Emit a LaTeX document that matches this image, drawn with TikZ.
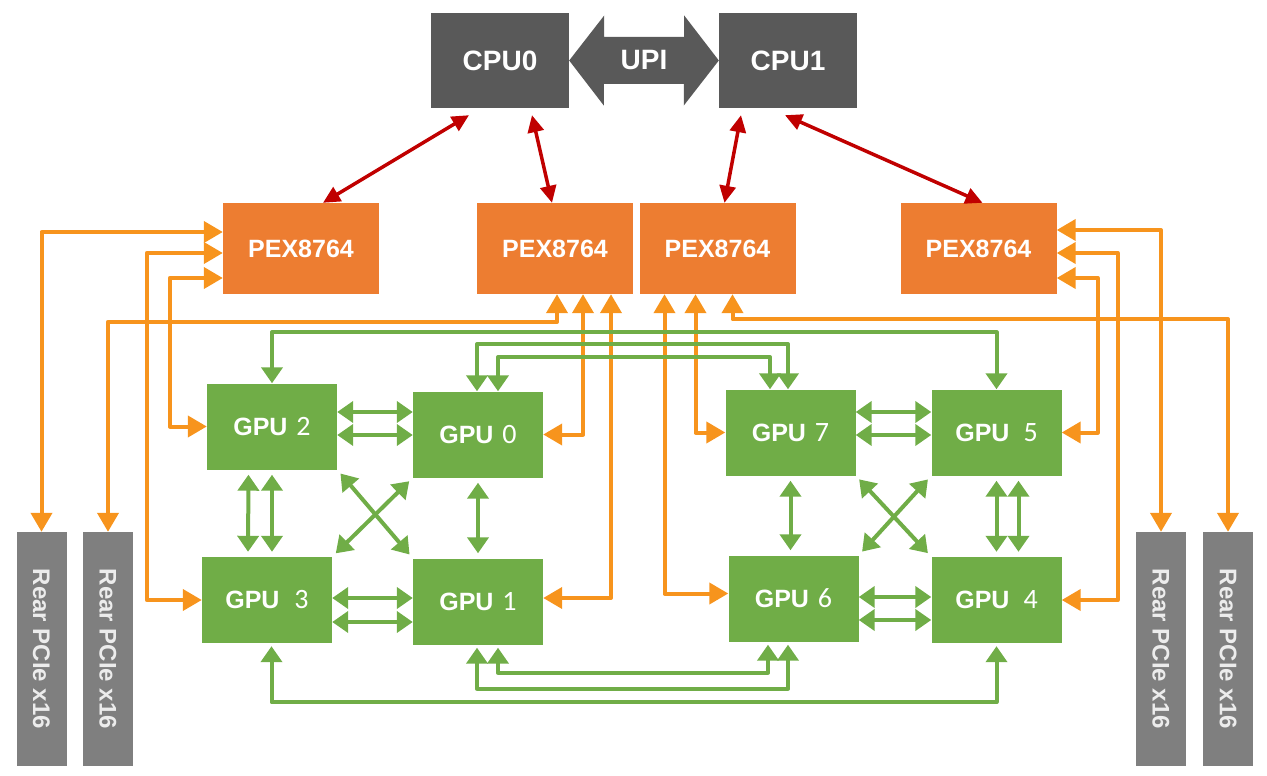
\documentclass[tikz,border=0pt]{standalone}
\usepackage{fontspec}
\setmainfont{Liberation Sans}
\newfontfamily\digitfont{Carlito}
\usetikzlibrary{arrows.meta,calc}
\definecolor{cpugray}{HTML}{595959}
\definecolor{reargray}{HTML}{7F7F7F}
\definecolor{pexorange}{HTML}{ED7D31}
\definecolor{linkorange}{HTML}{F7941D}
\definecolor{nvgreen}{HTML}{70AD47}
\definecolor{upired}{HTML}{C00000}
\newcommand{\gpunum}[1]{{\digitfont\mdseries\fontsize{28}{30}\selectfont#1}}
\begin{document}
\begin{tikzpicture}[x=1pt,y=-1pt,line cap=round,line join=round,
  boxfont/.style={font=\bfseries\fontsize{25}{30}\selectfont},
  cpufont/.style={font=\bfseries\fontsize{28}{32}\selectfont},
  cpubox/.style={cpufont,fill=cpugray,text=white,minimum width=138pt,minimum height=95pt,inner sep=0pt},
  pexbox/.style={boxfont,fill=pexorange,text=white,minimum width=156pt,minimum height=91pt,inner sep=0pt},
  gpubox/.style={boxfont,fill=nvgreen,text=white,minimum width=130pt,minimum height=86pt,inner sep=0pt},
  rearbox/.style={font=\bfseries\fontsize{24}{28}\selectfont,fill=reargray,text=white!85!reargray,minimum width=50pt,minimum height=234pt,inner sep=0pt},
  cpulink/.style={upired,line width=3.5pt,{Triangle[length=17pt,width=16pt]}-{Triangle[length=17pt,width=16pt]}},
  pcielink/.style={linkorange,line width=4pt,{Triangle[length=19pt,width=21pt]}-{Triangle[length=19pt,width=21pt]}},
  nvlink/.style={nvgreen,line width=4pt,{Triangle[length=16pt,width=21pt]}-{Triangle[length=16pt,width=21pt]}},
  nvgap/.style={shorten <=5pt,shorten >=5pt}]
  \useasboundingbox (0,0) rectangle (1267,776);
  \node[cpubox] (cpu0) at (500,60.5) {CPU0};
  \node[cpubox] (cpu1) at (788,60.5) {CPU1};
  \fill[cpugray] (cpu0.east) -- ++(35,-45) -- ++(0,21.5) -- ++(80,0) -- ++(0,-21.5) -- (cpu1.west)
    -- ++(-35,45) -- ++(0,-21.5) -- ++(-80,0) -- ++(0,21.5) -- cycle;
  \node[cpufont,text=white] (upi) at ($(cpu0.east)!0.5!(cpu1.west)$) {UPI};
  \node[pexbox] (pexA) at (301,248.5) {PEX8764};
  \node[pexbox] (pexB) at (555,248.5) {PEX8764};
  \node[pexbox] (pexC) at (717.5,248.5) {PEX8764};
  \node[pexbox] (pexD) at (978.5,248.5) {PEX8764};
  \node[gpubox] (gpu2) at (272,426.5) {GPU\hspace{9pt}\gpunum{2}};
  \node[gpubox] (gpu0) at (478,434.5) {GPU\hspace{9pt}\gpunum{0}};
  \node[gpubox] (gpu3) at (267,600) {GPU\hspace{15pt}\gpunum{3}};
  \node[gpubox] (gpu1) at (478,601.5) {GPU\hspace{9pt}\gpunum{1}};
  \node[gpubox] (gpu7) at (790.5,432.5) {GPU\hspace{9pt}\gpunum{7}};
  \node[gpubox] (gpu5) at (996.5,432.5) {GPU\hspace{14pt}\gpunum{5}};
  \node[gpubox] (gpu6) at (793.5,598.5) {GPU\hspace{9pt}\gpunum{6}};
  \node[gpubox] (gpu4) at (996.5,600) {GPU\hspace{14pt}\gpunum{4}};
  \node[rearbox] (rearL1) at (41.5,649) {\rotatebox{-90}{Rear PCIe x16}};
  \node[rearbox] (rearL2) at (108,649) {\rotatebox{-90}{Rear PCIe x16}};
  \node[rearbox] (rearR1) at (1161,649) {\rotatebox{-90}{Rear PCIe x16}};
  \node[rearbox] (rearR2) at (1228,649) {\rotatebox{-90}{Rear PCIe x16}};
  \draw[cpulink] ([xshift=-31pt,yshift=-7pt]cpu0.south) -- ([xshift=22pt]pexA.north);
  \draw[cpulink] ([xshift=32pt,yshift=-7pt]cpu0.south) -- ([xshift=-3pt]pexB.north);
  \draw[cpulink] ([xshift=-47pt,yshift=-7pt]cpu1.south) -- ([xshift=7pt]pexC.north);
  \draw[cpulink] ([xshift=-3pt,yshift=-7pt]cpu1.south) -- ([xshift=4pt]pexD.north);
  \draw[pcielink] (rearL1.north) |- ([yshift=16.5pt]pexA.west);
  \draw[pcielink] ([yshift=-4.5pt]pexA.west) -- ++(-76,0) |- (gpu3.west);
  \draw[pcielink] ([yshift=-29.5pt]pexA.west) -- ++(-53,0) |- (gpu2.west);
  \draw[pcielink] (rearL2.north) -- ++(0,-210) -| ([xshift=2pt]pexB.south);
  \draw[pcielink] ([xshift=28pt]pexB.south) |- (gpu0.east);
  \draw[pcielink] ([xshift=56pt]pexB.south) |- ([yshift=3.5pt]gpu1.east);
  \draw[pcielink] ([xshift=-53pt]pexC.south) |- ([yshift=5pt]gpu6.west);
  \draw[pcielink] ([xshift=-22pt]pexC.south) |- (gpu7.west);
  \draw[pcielink] ([xshift=15pt]pexC.south) -- ++(0,25) -| (rearR2.north);
  \draw[pcielink] (rearR1.north) |- ([yshift=18.5pt]pexD.east);
  \draw[pcielink] ([yshift=-4.5pt]pexD.east) -- ++(61,0) |- (gpu4.east);
  \draw[pcielink] ([yshift=-29.5pt]pexD.east) -- ++(41,0) |- (gpu5.east);
  \draw[nvlink] ([yshift=14.5pt]gpu2.east) -- ([yshift=22.5pt]gpu0.west);
  \draw[nvlink] ([yshift=-8.5pt]gpu2.east) -- ([yshift=-0.5pt]gpu0.west);
  \draw[nvlink] ([yshift=2pt]gpu3.east) -- ([yshift=3.5pt]gpu1.west);
  \draw[nvlink] ([yshift=-22pt]gpu3.east) -- ([yshift=-20.5pt]gpu1.west);
  \draw[nvlink] ([yshift=20.5pt]gpu7.east) -- ([yshift=20.5pt]gpu5.west);
  \draw[nvlink] ([yshift=-2.5pt]gpu7.east) -- ([yshift=-2.5pt]gpu5.west);
  \draw[nvlink] ([yshift=1.5pt]gpu6.east) -- ([yshift=3pt]gpu4.west);
  \draw[nvlink] ([yshift=-21.5pt]gpu6.east) -- ([yshift=-20pt]gpu4.west);
  \draw[nvlink,nvgap] ([xshift=-23.5pt]gpu2.south) -- ([xshift=-19pt]gpu3.north);
  \draw[nvlink,nvgap] (gpu2.south) -- ([xshift=5pt]gpu3.north);
  \draw[nvlink,nvgap] (gpu0.south) -- (gpu1.north);
  \draw[nvlink,nvgap] (gpu7.south) -- (gpu7.south |- gpu6.north);
  \draw[nvlink,nvgap] (gpu5.south) -- (gpu4.north);
  \draw[nvlink,nvgap] ([xshift=22pt]gpu5.south) -- ([xshift=22pt]gpu4.north);
  \draw[nvlink,nvgap] (gpu2.south east) -- (gpu1.north west);
  \draw[nvlink,nvgap] (gpu3.north east) -- (gpu0.south west);
  \draw[nvlink,nvgap] (gpu7.south east) -- (gpu4.north west);
  \draw[nvlink,nvgap] (gpu6.north east) -- (gpu5.south west);
  \draw[nvlink] (gpu2.north) -- ++(0,-51) -| (gpu5.north);
  \draw[nvlink] ([xshift=-1pt]gpu0.north) -- ++(0,-47) -| ([xshift=-2.5pt]gpu7.north);
  \draw[nvlink] ([xshift=20pt]gpu0.north) -- ++(0,-34) -| ([xshift=-20.5pt]gpu7.north);
  \draw[nvlink,shorten <=3pt,shorten >=3pt] ([xshift=4.5pt]gpu3.south) -- ++(0,59) -| (gpu4.south);
  \draw[nvlink,shorten <=3pt,shorten >=3pt] ([xshift=-1pt]gpu1.south) -- ++(0,44) -| ([xshift=-5.5pt]gpu6.south);
  \draw[nvlink,shorten <=3pt,shorten >=3pt] ([xshift=20pt]gpu1.south) -- ++(0,28) -| ([xshift=-25.5pt]gpu6.south);
\end{tikzpicture}
\end{document}
